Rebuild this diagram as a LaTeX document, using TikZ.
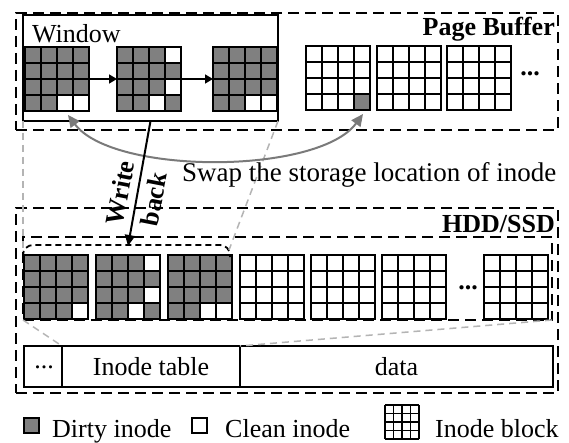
\documentclass[tikz,border=0pt]{standalone}
\usepackage{fontspec}
\setmainfont{Liberation Serif}
\usetikzlibrary{arrows.meta}
\definecolor{dirtyc}{HTML}{808080}
\definecolor{lgray}{HTML}{B4B4B4}
\definecolor{agray}{HTML}{7A7A7A}

\tikzset{
  gridline/.style={line width=2.2pt, line cap=rect},
  gridbox/.style={minimum width=64pt, minimum height=64pt, inner sep=0pt, outer sep=0pt},
  blackdash/.style={draw, line width=1.8pt, dash pattern=on 11pt off 6pt, inner sep=0pt, outer sep=0pt},
  graydash/.style={draw=lgray, line width=1.5pt, dash pattern=on 7pt off 5pt},
  solidbox/.style={draw, line width=2pt, inner sep=0pt, outer sep=0pt},
  tabcell/.style={draw, line width=2pt, minimum height=41pt, inner sep=0pt, outer sep=0pt},
  winarrow/.style={line width=1.6pt, -{Triangle[length=8pt,width=9pt]}},
  swaparrow/.style={draw=agray, line width=2pt, {Triangle[length=12pt,width=11pt]}-{Triangle[length=12pt,width=11pt]}},
  wbarrow/.style={line width=2pt, -{Triangle[length=11pt,width=10pt]}},
  legsq/.style={draw, line width=1.8pt, minimum width=15pt, minimum height=15pt, inner sep=0pt}
}

\newcommand\mygridlines[2]{%
  \foreach \gi in {0,16,32,48,64} {
    \draw[gridline] (#1+\gi,-#2) -- (#1+\gi,-#2-64);
    \draw[gridline] (#1,-#2-\gi) -- (#1+64,-#2-\gi);
  }}
% dirty grid: name, x, y, list of clean cells col/row
\newcommand\dgrid[4]{%
  \node[gridbox] (#1) at (#2+32,-#3-32) {};
  \fill[dirtyc] (#2,-#3) rectangle (#2+64,-#3-64);
  \foreach \cellc/\cellr in {#4} {\fill[white] (#2+16*\cellc,-#3-16*\cellr) rectangle ++(16,-16);}
  \mygridlines{#2}{#3}}
% clean grid with dirty cells
\newcommand\cgrid[4]{%
  \node[gridbox] (#1) at (#2+32,-#3-32) {};
  \foreach \cellc/\cellr in {#4} {\fill[dirtyc] (#2+16*\cellc,-#3-16*\cellr) rectangle ++(16,-16);}
  \mygridlines{#2}{#3}}
% empty clean grid
\newcommand\egrid[3]{%
  \node[gridbox] (#1) at (#2+32,-#3-32) {};
  \mygridlines{#2}{#3}}

\begin{document}
\begin{tikzpicture}[x=1pt,y=1pt,font=\fontsize{26}{30}\selectfont]
\fill[white] (0,0) rectangle (569,-443);
\useasboundingbox (0,0) rectangle (569,-443);

% outer regions
\node[blackdash, minimum width=542pt, minimum height=117pt] (pb) at (287,-71.5) {};
\node[blackdash, minimum width=542pt, minimum height=185pt] (hdd) at (287,-300.5) {};
\node[blackdash, minimum width=529pt, minimum height=83pt] (inner) at (287.5,-278.5) {};

% window
\node[solidbox, minimum width=255pt, minimum height=106pt] (win) at (150.5,-68) {};
\node[anchor=base west, inner sep=0pt] (wlab) at (32,-43) {Window};

% labels of regions
\node[anchor=base east, inner sep=0pt] (pblab) at (555,-36) {\bfseries Page Buffer};
\node[anchor=base east, inner sep=0pt] (hddlab) at (555,-233) {\bfseries HDD/SSD};

% window grids
\dgrid{w1}{25}{47}{2/3,3/3}
\dgrid{w2}{117}{47}{3/0,3/2,2/3}
\dgrid{w3}{213}{47}{2/3,3/3}
\draw[winarrow] (w1.east) -- (w2.west);
\draw[winarrow] (w2.east) -- (w3.west);

% page buffer grids
\cgrid{p1}{306}{46}{3/3}
\egrid{p2}{377}{46}
\egrid{p3}{447}{46}
\node[inner sep=0pt] (pbdots) at (530,-74) {\bfseries ...};

% disk grids
\dgrid{d1}{24}{255}{3/3}
\dgrid{d2}{96}{255}{3/0,3/2,2/3}
\dgrid{d3}{168}{255}{2/3,3/3}
\egrid{d4}{240}{255}
\egrid{d5}{311}{255}
\egrid{d6}{382}{255}
\egrid{d7}{484}{255}
\node[inner sep=0pt] (ddots) at (468,-288) {\bfseries ...};

% rounded copy of window on disk
\coordinate (rrl) at (23,-250);
\coordinate (rrr) at (229,-250);
\coordinate (wbend) at (128,-246);
\draw[line width=1.8pt, dash pattern=on 6pt off 4pt] (23,-257) [rounded corners=10pt] -- (23,-245) -- (230,-245) [sharp corners] -- (230,-257);

% table
\node[tabcell, minimum width=38pt] (t1) at (43,-366.5) {};
\node[tabcell, minimum width=178pt] (t2) at (151,-366.5) {Inode table};
\node[tabcell, minimum width=313pt] (t3) at (396.5,-366.5) {data};
\node[inner sep=0pt] (tdots) at (44,-367) {...};

% gray dashed guides
\draw[graydash] (win.south west) -- (rrl);
\draw[graydash] (win.south east) -- (rrr);
\draw[graydash] (inner.south west) -- (t2.north west);
\draw[graydash] (inner.south east) -- (t3.north west);

% swap arrow
\coordinate (sw1) at (68,-115);
\coordinate (sw2) at (363,-114);
\draw[swaparrow] (sw1) .. controls (113,-175) and (318,-175) .. (sw2);
\node[anchor=base west, inner sep=0pt, font=\fontsize{27}{30}\selectfont] (swaplab) at (182,-182) {Swap the storage location of inode};

% write back
\draw[wbarrow] (win.south) -- (wbend);
\node[rotate=79, align=center, inner sep=0pt, font=\fontsize{26}{34}\selectfont\bfseries] (wblab) at (137,-196) {Write\\back};

% legend
\node[legsq, fill=dirtyc] (ldirty) at (31.5,-425.5) {};
\node[anchor=base west, inner sep=0pt] (ldirtyt) at (52,-437) {Dirty inode};
\node[legsq, fill=white] (lclean) at (199.5,-425.5) {};
\node[anchor=base west, inner sep=0pt] (lcleant) at (225,-437) {Clean inode};
\node[minimum size=34pt, inner sep=0pt] (lblock) at (402,-422) {};
\draw[line width=1.8pt, shift={(385,-405)}] (0,0) grid[step=8.5pt] (34,-34);
\node[anchor=base west, inner sep=0pt] (lblockt) at (435,-437) {Inode block};
\end{tikzpicture}
\end{document}
